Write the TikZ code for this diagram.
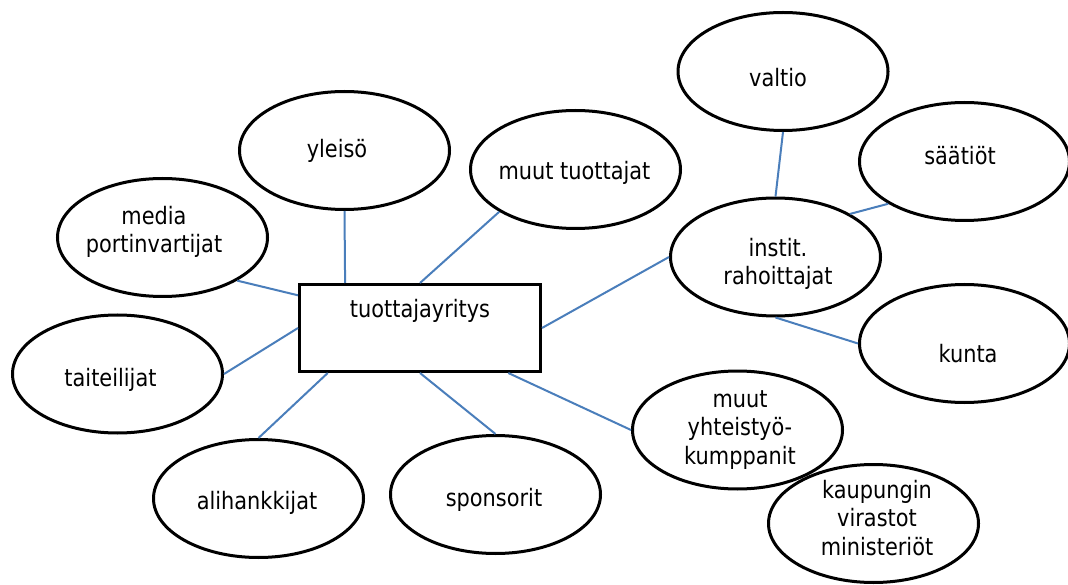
\documentclass[tikz,border=0pt]{standalone}
\usepackage{fontspec}
\setmainfont{DejaVu Sans}[FakeStretch=0.87]
\usetikzlibrary{shapes.geometric}
\definecolor{connblue}{RGB}{74,126,187}
\begin{document}
\begin{tikzpicture}[x=1pt,y=-1pt,
  bub/.style={ellipse,draw,line width=3pt,fill=white,minimum width=210pt,minimum height=118pt,inner sep=0pt},
  hub/.style={rectangle,draw,line width=3.4pt,fill=white,minimum width=240.6pt,minimum height=86.6pt,inner sep=0pt},
  lbl/.style={anchor=base,inner sep=0pt,align=center,font=\fontsize{24}{28.5}\selectfont},
  conn/.style={draw=connblue,line width=2pt}]
\useasboundingbox[fill=white] (0,0) rectangle (1068,585);
% shapes
\node[hub] (hub) at (420,328) {};
\node[bub] (media) at (162.5,237.5) {};
\node[bub] (yleiso) at (344.5,150.5) {};
\node[bub] (muutt) at (575.5,169.5) {};
\node[bub] (valtio) at (783,71.5) {};
\node[bub] (saatiot) at (964.5,161.5) {};
\node[bub] (instit) at (775.5,257) {};
\node[bub] (kunta) at (964.5,343.5) {};
\node[bub] (taiteilijat) at (117.5,374) {};
\node[bub] (ali) at (258.5,498.5) {};
\node[bub] (sponsorit) at (495.5,494.5) {};
\node[bub] (muuty) at (737.5,430) {};
\node[bub] (kaupungin) at (873.5,523.5) {};
% texts (base = baseline of the last line)
\node[lbl] (t-hub) at (420,317) {tuottajayritys};
\node[lbl] (t-media) at (154,253) {media\\portinvartijat};
\node[lbl] (t-yleiso) at (337,158) {yleisö};
\node[lbl] (t-muutt) at (574.5,180) {muut tuottajat};
\node[lbl] (t-valtio) at (778,87) {valtio};
\node[lbl] (t-saatiot) at (960,165) {säätiöt};
\node[lbl] (t-instit) at (778,285) {instit.\\rahoittajat};
\node[lbl] (t-kunta) at (968,362) {kunta};
\node[lbl] (t-taiteilijat) at (110.5,386) {taiteilijat};
\node[lbl] (t-ali) at (257,509) {alihankkijat};
\node[lbl] (t-sponsorit) at (494,506) {sponsorit};
\node[lbl] (t-muuty) at (740,464) {muut\\yhteistyö-\\kumppanit};
\node[lbl] (t-kaupungin) at (877,555) {kaupungin\\virastot\\ministeriöt};
% connectors
\draw[conn] (hub.149.4) -- (yleiso.south);
\draw[conn] (hub.north) -- (muutt.209.7);
\draw[conn] (hub.165.7) -- (media.330.3);
\draw[conn] (hub.west) -- (taiteilijat.east);
\draw[conn] (hub.206.3) -- (ali.north);
\draw[conn] (hub.south) -- (sponsorit.north);
\draw[conn] (hub.333.4) -- (muuty.west);
\draw[conn] (hub.east) -- (instit.west);
\draw[conn] (instit.north) -- (valtio.south);
\draw[conn] (instit.30) -- (saatiot.209.7);
\draw[conn] (instit.south) -- (kunta.west);
\end{tikzpicture}
\end{document}
